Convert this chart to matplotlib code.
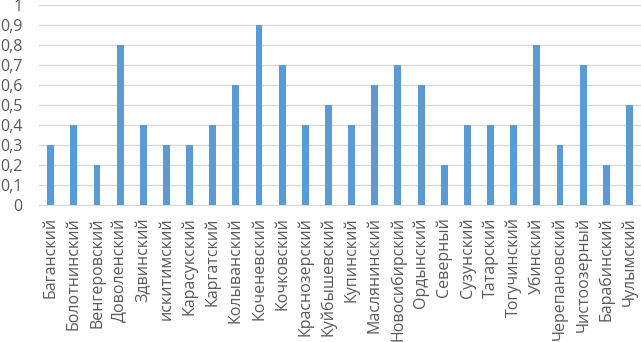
import matplotlib
matplotlib.use("Agg")
import matplotlib.pyplot as plt
import numpy as np
from matplotlib.ticker import FuncFormatter

districts = ["Баганский", "Болотнинский", "Венгеровский", "Доволенский", "Здвинский",
             "искитимский", "Карасукский", "Каргатский", "Колыванский", "Коченевский",
             "Кочковский", "Краснозерский", "Куйбышевский", "Купинский", "Маслянинский",
             "Новосибирский", "Ордынский", "Северный", "Сузунский", "Татарский",
             "Тогучинский", "Убинский", "Черепановский", "Чистоозерный", "Барабинский",
             "Чулымский"]
values = [0.3, 0.4, 0.2, 0.8, 0.4, 0.3, 0.3, 0.4, 0.6, 0.9, 0.7, 0.4, 0.5, 0.4,
          0.6, 0.7, 0.6, 0.2, 0.4, 0.4, 0.4, 0.8, 0.3, 0.7, 0.2, 0.5]

plt.rcParams["font.family"] = ["Open Sans", "DejaVu Sans"]
text_col = "#595959"


def fmt(v, pos):
    if abs(v) < 1e-9:
        return "0"
    if abs(v - 1) < 1e-9:
        return "1"
    return f"{v:.1f}".replace(".", ",")


fig = plt.figure(figsize=(6.41, 3.42), dpi=100)
ax = fig.add_axes([0.061, 0.401, 0.939, 0.584])

x = np.arange(len(districts))
ax.bar(x, values, width=0.3, color="#5b9bd5", zorder=3)

ax.set_xlim(-0.5, len(districts) - 0.5)
ax.set_ylim(0, 1)
ax.set_yticks(np.arange(0, 1.01, 0.1))
ax.yaxis.set_major_formatter(FuncFormatter(fmt))
ax.set_xticks(x)
ax.set_xticklabels(districts, rotation=90)
ax.tick_params(axis="both", length=0, colors=text_col, labelsize=11.5)
ax.tick_params(axis="y", pad=12)
ax.tick_params(axis="x", pad=9)

ax.grid(axis="y", color="#d9d9d9", linewidth=1, zorder=0)
for s in ["top", "right", "left"]:
    ax.spines[s].set_visible(False)
ax.spines["bottom"].set_color("#d9d9d9")

fig.savefig("out.png", dpi=100)
